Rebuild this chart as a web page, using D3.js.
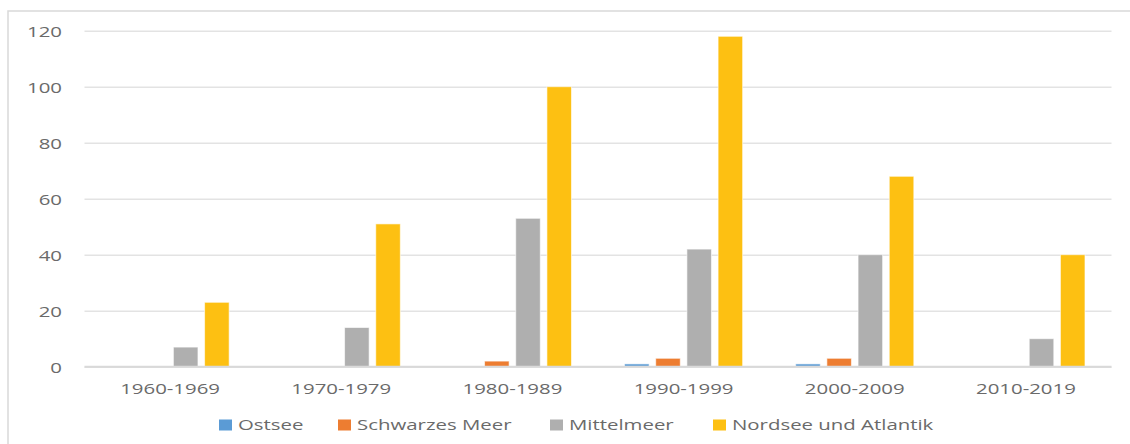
<!DOCTYPE html>
<html>
<head>
<meta charset="utf-8">
<script src="https://cdn.jsdelivr.net/npm/d3@7"></script>
<style>
  html, body { margin: 0; padding: 0; background: #fff; }
  svg { display: block; }
  text { font-family: "Open Sans", sans-serif; fill: #6a6a6a; }
</style>
</head>
<body>
<script>
const categories = ["1960-1969", "1970-1979", "1980-1989", "1990-1999", "2000-2009", "2010-2019"];
const seriesNames = ["Ostsee", "Schwarzes Meer", "Mittelmeer", "Nordsee und Atlantik"];
const ostsee = [0, 0, 0, 1, 1, 0];
const schwarzesMeer = [0, 0, 2, 3, 3, 0];
const mittelmeer = [7, 14, 53, 42, 40, 10];
const nordseeAtlantik = [23, 51, 100, 118, 68, 40];
const yTicks = [0, 20, 40, 60, 80, 100, 120];
const colors = ["#5B9BD5", "#ED7D31", "#AFAFAF", "#FDC012"];

const seriesValues = [ostsee, schwarzesMeer, mittelmeer, nordseeAtlantik];

const W = 1130, H = 444;
const SX = 1.36; // horizontal text stretch seen in the reference
const svg = d3.select("body").append("svg").attr("width", W).attr("height", H);

// outer chart border
svg.append("rect").attr("x", 8).attr("y", 11).attr("width", 1300).attr("height", 600)
  .attr("fill", "none").attr("stroke", "#d9d9d9").attr("stroke-width", 1.5);

const plot = { left: 84.5, right: 1111.5, top: 30.7, bottom: 366.7 };

const y = d3.scaleLinear().domain([0, 120]).range([plot.bottom, plot.top]);
const x0 = d3.scaleBand().domain(categories).range([plot.left, plot.right]).padding(0);
const groupW = x0.bandwidth() * (4.81 / 6.97);
const x1 = d3.scaleBand().domain(seriesNames).range([0, groupW]).paddingInner(0.2126).paddingOuter(0);

// gridlines
const yAxis = d3.axisLeft(y).tickValues(yTicks).tickSize(-(plot.right - plot.left)).tickPadding(0);
const gy = svg.append("g").attr("transform", `translate(${plot.left},0)`).call(yAxis);
gy.select(".domain").remove();
gy.selectAll(".tick line").attr("stroke", "#e3e3e3").attr("stroke-width", 1.5);
gy.selectAll(".tick text").remove();
gy.selectAll(".tick").each(function(d) {
  d3.select(this).append("text")
    .attr("text-anchor", "end")
    .attr("font-size", 15)
    .attr("dy", "0.36em")
    .attr("transform", `translate(${62 - plot.left},0) scale(${SX},1)`)
    .text(d);
});

// bars
const data = categories.map((c, i) => ({ cat: c, vals: seriesNames.map((s, j) => ({ s, j, v: seriesValues[j][i] })) }));
const groups = svg.append("g").selectAll("g").data(data).join("g")
  .attr("transform", d => `translate(${x0(d.cat) + (x0.bandwidth() - groupW) / 2},0)`);
groups.selectAll("rect").data(d => d.vals.filter(e => e.v > 0)).join("rect")
  .attr("x", e => x1(e.s))
  .attr("width", x1.bandwidth())
  .attr("y", e => y(e.v))
  .attr("height", e => y(0) - y(e.v))
  .attr("fill", e => colors[e.j])
  .attr("stroke", "rgba(255,255,255,0.6)")
  .attr("stroke-width", 1);

// baseline
svg.append("line").attr("x1", plot.left).attr("x2", plot.right)
  .attr("y1", y(0)).attr("y2", y(0)).attr("stroke", "#d9d9d9").attr("stroke-width", 2);

// category axis labels
const xAxis = d3.axisBottom(x0).tickSize(0).tickPadding(0);
const gx = svg.append("g").attr("transform", `translate(0,${plot.bottom})`).call(xAxis);
gx.select(".domain").remove();
gx.selectAll(".tick text").remove();
gx.selectAll(".tick").each(function(d) {
  d3.select(this).append("text")
    .attr("text-anchor", "middle")
    .attr("font-size", 15)
    .attr("transform", `translate(0,${394 - plot.bottom}) scale(${SX},1)`)
    .text(d);
});

// legend
const legend = svg.append("g");
const legendStarts = [219, 338, 550, 713];
seriesNames.forEach((s, j) => {
  const lx = legendStarts[j];
  legend.append("rect").attr("x", lx).attr("y", 419.5).attr("width", 13).attr("height", 11)
    .attr("fill", colors[j]);
  legend.append("text").attr("font-size", 15)
    .attr("transform", `translate(${lx + 19},430) scale(${SX},1)`).text(s);
});
</script>
</body>
</html>
